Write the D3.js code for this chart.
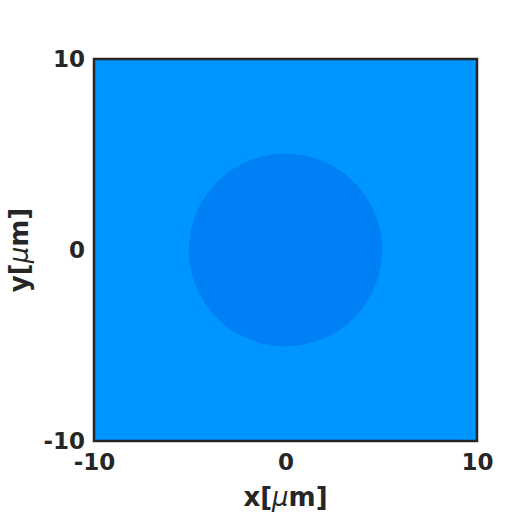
<!DOCTYPE html>
<html>
<head>
<meta charset="utf-8">
<script src="https://cdn.jsdelivr.net/npm/d3@7"></script>
<style>
  body { margin: 0; background: #fff; }
  text { font-family: "DejaVu Sans", sans-serif; font-weight: bold; fill: #262626; }
</style>
</head>
<body>
<script>
const xDomain = [-10, 10];
const yDomain = [-10, 10];
const xTicks = [-10, 0, 10];
const yTicks = [-10, 0, 10];
const backgroundValue = 'rgb(0,150,255)';
const circleCenter = [0, 0];
const circleRadius = 5.05;
const circleColor = 'rgb(0,128,245)';

const width = 525, height = 525;
const margin = { left: 94, right: 48, top: 59, bottom: 84 };

const svg = d3.select('body')
    .append('svg')
    .attr('width', width)
    .attr('height', height);

const xScale = d3.scaleLinear().domain(xDomain).range([margin.left, width - margin.right]);
const yScale = d3.scaleLinear().domain(yDomain).range([height - margin.bottom, margin.top]);

// background field
svg.append('rect')
    .attr('x', xScale(xDomain[0]))
    .attr('y', yScale(yDomain[1]))
    .attr('width', xScale(xDomain[1]) - xScale(xDomain[0]))
    .attr('height', yScale(yDomain[0]) - yScale(yDomain[1]))
    .attr('fill', backgroundValue);

// circular region
svg.append('ellipse')
    .attr('cx', xScale(circleCenter[0]))
    .attr('cy', yScale(circleCenter[1]))
    .attr('rx', xScale(circleRadius) - xScale(0))
    .attr('ry', yScale(0) - yScale(circleRadius))
    .attr('fill', circleColor);

// frame
svg.append('rect')
    .attr('x', xScale(xDomain[0]))
    .attr('y', yScale(yDomain[1]))
    .attr('width', xScale(xDomain[1]) - xScale(xDomain[0]))
    .attr('height', yScale(yDomain[0]) - yScale(yDomain[1]))
    .attr('fill', 'none')
    .attr('stroke', '#262626')
    .attr('stroke-width', 2.5);

const fmt = d => String(d);
const xAxis = svg.append('g')
    .attr('transform', `translate(0,${height - margin.bottom})`)
    .call(d3.axisBottom(xScale).tickValues(xTicks).tickFormat(fmt).tickSize(0).tickPadding(13));
const yAxis = svg.append('g')
    .attr('transform', `translate(${margin.left},0)`)
    .call(d3.axisLeft(yScale).tickValues(yTicks).tickFormat(fmt).tickSize(0).tickPadding(9));

[xAxis, yAxis].forEach(g => {
    g.select('.domain').remove();
    g.selectAll('text')
        .style('font-family', '"DejaVu Sans", sans-serif')
        .style('font-weight', 'bold')
        .style('font-size', '23px')
        .attr('fill', '#262626');
});

const xl = svg.append('text')
    .attr('x', xScale(0))
    .attr('y', 506)
    .attr('text-anchor', 'middle')
    .style('font-size', '26px');
xl.append('tspan').text('x[');
xl.append('tspan').style('font-style', 'italic').style('font-weight', 'normal').text('μ');
xl.append('tspan').text('m]');

const yl = svg.append('text')
    .attr('transform', `translate(28,${yScale(0)}) rotate(-90)`)
    .attr('text-anchor', 'middle')
    .style('font-size', '26px');
yl.append('tspan').text('y[');
yl.append('tspan').style('font-style', 'italic').style('font-weight', 'normal').text('μ');
yl.append('tspan').text('m]');
</script>
</body>
</html>
